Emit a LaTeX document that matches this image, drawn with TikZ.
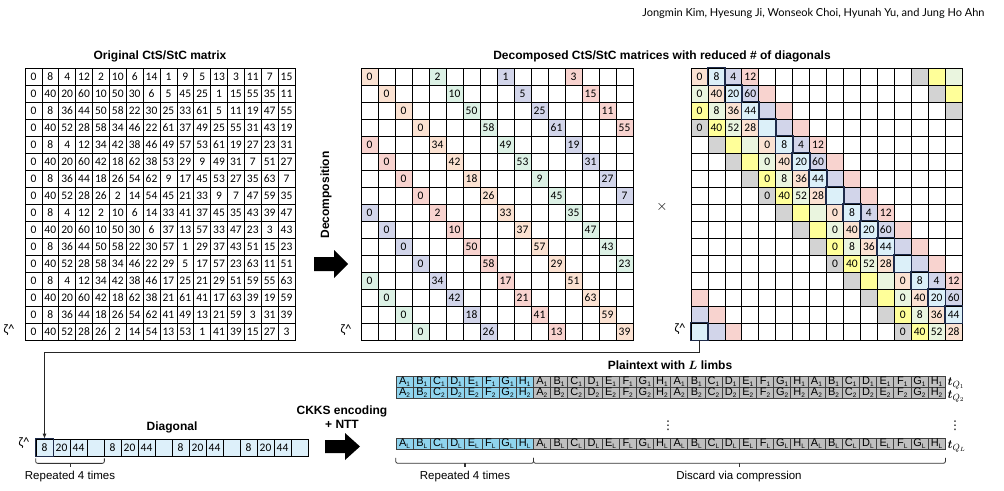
\documentclass[tikz,border=0pt]{standalone}
\usepackage{fontspec}
\usepackage{amsmath}
\setmainfont{Liberation Sans}
\newfontfamily\numfont{Carlito}
\newfontfamily\hdrfont{Lato}
\newfontfamily\symfont{DejaVu Sans}
\usetikzlibrary{arrows.meta,calc}
\definecolor{cpeach}{HTML}{FBE2D2}
\definecolor{cpink}{HTML}{F8D3CF}
\definecolor{cmint}{HTML}{DCF1E5}
\definecolor{cpurple}{HTML}{D2D5EA}
\definecolor{cblue}{HTML}{DCF0F9}
\definecolor{cyellow}{HTML}{FFFF99}
\definecolor{cgray}{HTML}{D3D3D3}
\definecolor{clime}{HTML}{EAF5DF}
\definecolor{pblue}{HTML}{8FD4EE}
\definecolor{pgray}{HTML}{BFBFBF}
\definecolor{vblue}{HTML}{DDF0FA}
\definecolor{navy}{HTML}{1E2B4A}
\begin{document}
\begin{tikzpicture}[x=1pt,y=-1pt,
  cellbase/.style={draw=black,line width=0.7pt,inner sep=0pt,minimum height=17pt,font=\numfont\fontsize{11.5}{11.5}\selectfont},
  cellL/.style={cellbase,minimum width=16.875pt},
  cellM/.style={cellbase,minimum width=17pt},
  cellR/.style={cellbase,minimum width=16.94pt},
  vcell/.style={cellbase,minimum width=17pt,fill=vblue},
  pcell/.style={draw=black!75,line width=0.6pt,inner sep=0pt,minimum width=17.16pt,minimum height=11pt,font=\fontsize{11}{11}\selectfont},
  title/.style={font=\bfseries\fontsize{12}{14}\selectfont},
  plain/.style={font=\fontsize{11.5}{13}\selectfont},
  zeta/.style={font=\numfont\fontsize{13}{13}\selectfont},
  thickb/.style={draw=navy,line width=1.6pt},
  brace/.style={draw=black!80,line width=0.8pt,rounded corners=2pt},
  tick/.style={draw=black!80,line width=1.4pt},
  conn/.style={draw=black!85,line width=0.8pt},
  tq/.style={anchor=base west,font=\fontsize{12.5}{12.5}\selectfont,inner sep=0pt}
]
\useasboundingbox (0,0) rectangle (1004,490);

% header
\node[anchor=base east,font=\hdrfont\fontsize{11}{13}\selectfont] (hdr) at (988,16) {Jongmin Kim, Hyesung Ji, Wonseok Choi, Hyunah Yu, and Jung Ho Ahn};

% titles
\node[title] (t1) at (160,56) {Original CtS/StC matrix};
\node[title] (t2) at (662,56) {Decomposed CtS/StC matrices with reduced \# of diagonals};

% original matrix
\foreach \row [count=\r from 0] in {%
{0,8,4,12,2,10,6,14,1,9,5,13,3,11,7,15},%
{0,40,20,60,10,50,30,6,5,45,25,1,15,55,35,11},%
{0,8,36,44,50,58,22,30,25,33,61,5,11,19,47,55},%
{0,40,52,28,58,34,46,22,61,37,49,25,55,31,43,19},%
{0,8,4,12,34,42,38,46,49,57,53,61,19,27,23,31},%
{0,40,20,60,42,18,62,38,53,29,9,49,31,7,51,27},%
{0,8,36,44,18,26,54,62,9,17,45,53,27,35,63,7},%
{0,40,52,28,26,2,14,54,45,21,33,9,7,47,59,35},%
{0,8,4,12,2,10,6,14,33,41,37,45,35,43,39,47},%
{0,40,20,60,10,50,30,6,37,13,57,33,47,23,3,43},%
{0,8,36,44,50,58,22,30,57,1,29,37,43,51,15,23},%
{0,40,52,28,58,34,46,22,29,5,17,57,23,63,11,51},%
{0,8,4,12,34,42,38,46,17,25,21,29,51,59,55,63},%
{0,40,20,60,42,18,62,38,21,61,41,17,63,39,19,59},%
{0,8,36,44,18,26,54,62,41,49,13,21,59,3,31,39},%
{0,40,52,28,26,2,14,54,13,53,1,41,39,15,27,3}}{%
  \foreach \v [count=\c from 0] in \row {%
    \node[cellL] (L-\r-\c) at ({25+16.875*(\c+0.5)},{68+17*(\r+0.5)}) {\v};
  }
}

% decomposed matrix
\foreach \r in {0,...,15}{%
  \foreach \c in {0,...,15}{%
    \pgfmathtruncatemacro\k{mod(\r,4)}%
    \pgfmathtruncatemacro\b{int(\r/4)}%
    \pgfmathtruncatemacro\hit{mod(\c-\k+16,4)==0}%
    \ifnum\hit=1
      \pgfmathtruncatemacro\j{int(\c/4)}%
      \pgfmathtruncatemacro\ci{mod(\j-\b+4,4)}%
      \pgfmathtruncatemacro\v{{0,2,1,3,0,10,5,15,0,50,25,11,0,58,61,55,0,34,49,19,0,42,53,31,0,18,9,27,0,26,45,7,0,2,33,35,0,10,37,47,0,50,57,43,0,58,29,23,0,34,17,51,0,42,21,63,0,18,41,59,0,26,13,39}[4*\r+\j]}%
      \edef\cc{\ifcase\numexpr\ci\relax cpeach\or cmint\or cpurple\or cpink\fi}%
      \node[cellM,fill=\cc] (M-\r-\c) at ({361+17*(\c+0.5)},{68+17*(\r+0.5)}) {\v};
    \else
      \node[cellM] (M-\r-\c) at ({361+17*(\c+0.5)},{68+17*(\r+0.5)}) {};
    \fi
  }
}

% block-diagonal matrix
\foreach \r in {0,...,15}{%
  \foreach \c in {0,...,15}{%
    \pgfmathtruncatemacro\d{mod(\c-\r+16,16)}%
    \pgfmathtruncatemacro\same{int(\r/4)==int(\c/4)}%
    \edef\cc{\ifcase\numexpr\d\relax cpeach\or cblue\or cpurple\or cpink\or white\or white\or white\or white\or white\or white\or white\or white\or white\or cgray\or cyellow\or clime\fi}%
    \ifnum\same=1
      \pgfmathtruncatemacro\v{{0,8,4,12,0,40,20,60,0,8,36,44,0,40,52,28}[4*mod(\r,4)+mod(\c,4)]}%
      \node[cellR,fill=\cc] (R-\r-\c) at ({691+16.94*(\c+0.5)},{68+17*(\r+0.5)}) {\v};
    \else
      \node[cellR,fill=\cc] (R-\r-\c) at ({691+16.94*(\c+0.5)},{68+17*(\r+0.5)}) {};
    \fi
  }
}
\foreach \r in {0,...,15}{%
  \pgfmathtruncatemacro\c{mod(\r+1,16)}%
  \draw[thickb] (R-\r-\c.north west) rectangle (R-\r-\c.south east);
}

% labels between matrices
\node[title,rotate=90] (dec) at (326,195) {Decomposition};
\fill (314,257) -- (334,257) -- (334,250) -- (348,264) -- (334,278) -- (334,271) -- (314,271) -- cycle;
\node[font=\fontsize{15}{15}\selectfont] (times) at (662,207) {$\times$};
\node[zeta] (z1) at (9,330) {ζ\textasciicircum};
\node[zeta] (z2) at (346,330) {ζ\textasciicircum};
\node[zeta] (z3) at (680,329) {ζ\textasciicircum};
\node[zeta] (z4) at (24,443) {ζ\textasciicircum};

% diagonal vector
\node[title] (diagt) at (172,427) {Diagonal};
\foreach \i in {0,...,15}{%
  \pgfmathtruncatemacro\m{mod(\i,4)}%
  \edef\vv{\ifcase\numexpr\m\relax 8\or 20\or 44\or \fi}%
  \node[vcell] (D-\i) at ({36+17*(\i+0.5)},447.5) {\vv};
}
\draw[draw=navy,line width=1pt] (D-0.north west) rectangle (D-0.south east);
\draw[conn,-{Latex[length=5pt,width=4pt]}] (R-15-0.south) -- ++(0,12) -| (D-0.north);
\draw[brace] ($(D-0.south west)+(0,2)$) -- ($(D-0.south west)+(0,7)$) -- ($(D-3.south east)+(0,7)$) -- ($(D-3.south east)+(0,2)$);
\draw[tick] ($(D-1.south east)+(0,7)$) -- ++(0,4);
\node[plain] (rep1) at (70,477) {Repeated 4 times};

% CKKS encoding
\node[title,align=center] (ckks) at (342,417) {CKKS encoding\\+ NTT};
\fill (325,440) -- (345,440) -- (345,433) -- (360,446.5) -- (345,460) -- (345,453) -- (325,453) -- cycle;

% plaintext
\node[title] (ptt) at (670,365) {Plaintext with $\boldsymbol{L}$ limbs};
\foreach \rn/\sb/\yy in {1/1/382,2/2/393,L/L/444}{%
  \foreach \i in {0,...,31}{%
    \pgfmathtruncatemacro\m{mod(\i,8)}%
    \edef\lt{\ifcase\numexpr\m\relax A\or B\or C\or D\or E\or F\or G\or H\fi}%
    \ifnum\i<8 \def\pc{pblue}\else\def\pc{pgray}\fi
    \node[pcell,fill=\pc] (P-\rn-\i) at ({396+17.16*(\i+0.5)},\yy) {\lt\raisebox{-1.8pt}{\fontsize{6.5}{6.5}\selectfont\sb}};
  }
}
\node[tq] (tq1) at ($(P-1-31.east)+(2,3.5)$) {$\boldsymbol{t}_{Q_1}$};
\node[tq] (tq2) at ($(P-2-31.east)+(2,5)$) {$\boldsymbol{t}_{Q_2}$};
\node[tq] (tqL) at ($(P-L-31.east)+(2,4)$) {$\boldsymbol{t}_{Q_L}$};
\node[font=\symfont\fontsize{12}{12}\selectfont] (dots1) at (668,426) {⋮};
\node[font=\symfont\fontsize{12}{12}\selectfont] (dots2) at (955,426) {⋮};

\draw[brace] ($(P-L-0.south west)+(0,8)$) -- ($(P-L-0.south west)+(0,13.5)$) -- ($(P-L-7.south east)+(0,13.5)$) -- ($(P-L-7.south east)+(0,8)$);
\draw[tick] ($(P-L-3.south east)+(0,13.5)$) -- ++(0,4);
\draw[brace] ($(P-L-7.south east)+(0,8)$) -- ($(P-L-7.south east)+(0,13.5)$) -- ($(P-L-31.south east)+(0,13.5)$) -- ($(P-L-31.south east)+(0,8)$);
\draw[tick] ($(P-L-19.south east)+(0,13.5)$) -- ++(0,4);
\node[plain] (rep2) at (465,477) {Repeated 4 times};
\node[plain] (disc) at (739,477) {Discard via compression};
\end{tikzpicture}
\end{document}
